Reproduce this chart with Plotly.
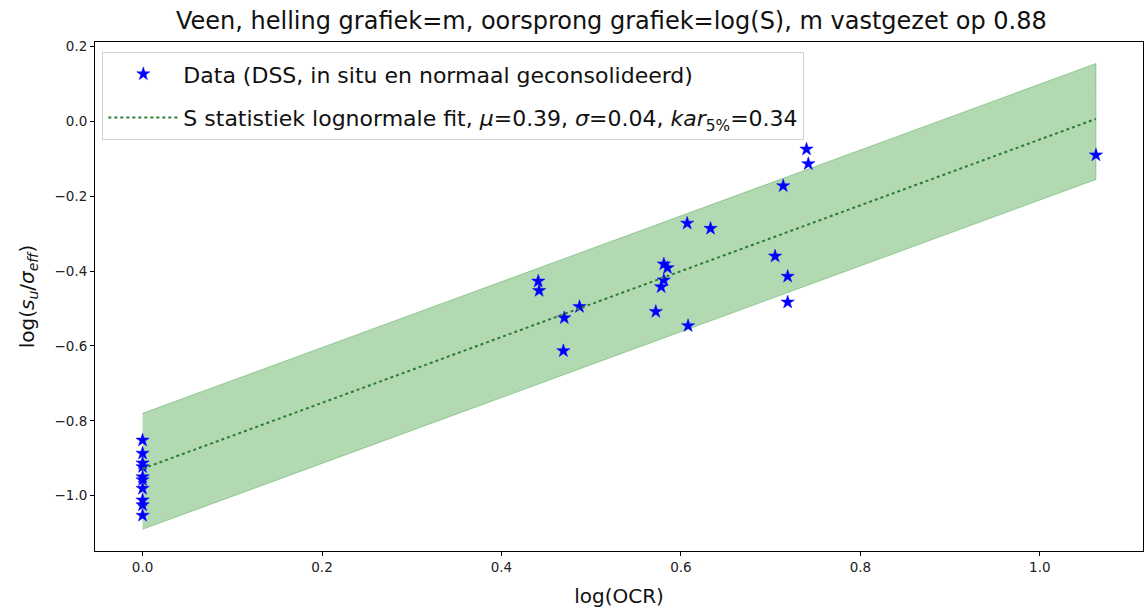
import plotly.graph_objects as go

# log(OCR) and log(su/sigma_eff) for the DSS samples
log_ocr = [0.0, 0.0, 0.0, 0.0, 0.0, 0.0, 0.0, 0.0, 0.0, 0.0,
           0.441, 0.442, 0.470, 0.469, 0.487, 0.572, 0.578, 0.581, 0.581, 0.585,
           0.607, 0.608, 0.633, 0.705, 0.714, 0.719, 0.719, 0.740, 0.742, 1.0626]
log_su = [-0.852, -0.887, -0.913, -0.923, -0.950, -0.958, -0.981, -1.012, -1.025, -1.053,
          -0.427, -0.452, -0.525, -0.613, -0.495, -0.508, -0.442, -0.424, -0.381, -0.391,
          -0.272, -0.546, -0.286, -0.360, -0.172, -0.414, -0.483, -0.074, -0.113, -0.0896]

# fixed slope m and fitted intercepts log(S): mean and band limits
m_slope = 0.88
log_s_mean = -0.928
log_s_upper = -0.780
log_s_lower = -1.090

x_tick_vals = [0.0, 0.2, 0.4, 0.6, 0.8, 1.0]
x_tick_text = ["0.0", "0.2", "0.4", "0.6", "0.8", "1.0"]
y_tick_vals = [0.2, 0.0, -0.2, -0.4, -0.6, -0.8, -1.0]
y_tick_text = ["0.2", "0.0", "\u22120.2", "\u22120.4", "\u22120.6", "\u22120.8", "\u22121.0"]

x_fit = [min(log_ocr), max(log_ocr)]
y_fit = [log_s_mean + m_slope * x for x in x_fit]
y_up = [log_s_upper + m_slope * x for x in x_fit]
y_lo = [log_s_lower + m_slope * x for x in x_fit]

FONT = "DejaVu Sans"

fig = go.Figure()

# confidence band
fig.add_trace(go.Scatter(
    x=x_fit + x_fit[::-1], y=y_up + y_lo[::-1],
    fill="toself", fillcolor="rgba(0,128,0,0.3)",
    line=dict(color="rgba(0,128,0,0.3)", width=1),
    mode="lines", showlegend=False, hoverinfo="skip"))

fig.add_trace(go.Scatter(
    x=log_ocr, y=log_su, mode="markers",
    marker=dict(symbol="star", size=10, color="#0000ff",
                line=dict(color="#0000ff", width=0.5)),
    legendgroup="data",
    name="Data (DSS, in situ en normaal geconsolideerd)"))

fig.add_trace(go.Scatter(
    x=x_fit, y=y_fit, mode="lines",
    line=dict(color="#2e7d32", width=2, dash="dot"),
    legendgroup="fit",
    name="S statistiek lognormale fit, <i>\u03bc</i>=0.39, <i>\u03c3</i>=0.04, "
         "<i>kar</i><sub>5%</sub>=0.34"))

axis_common = dict(
    showgrid=False, zeroline=False, showline=True, linecolor="black", linewidth=1,
    mirror=True, ticks="outside", ticklen=4, tickcolor="black",
    tickfont=dict(family=FONT, size=13.5, color="#222"),
)

fig.update_xaxes(range=[-0.053, 1.115], tickvals=x_tick_vals, ticktext=x_tick_text,
                 title=dict(text="log(OCR)", font=dict(family=FONT, size=20, color="#111"),
                            standoff=14),
                 **axis_common)
fig.update_yaxes(range=[-1.148, 0.2126], tickvals=y_tick_vals, ticktext=y_tick_text,
                 title=dict(text="log(<i>s</i><sub><i>u</i></sub>/<i>\u03c3</i><sub><i>eff</i></sub>)",
                            font=dict(family=FONT, size=20, color="#111"), standoff=14),
                 **axis_common)

fig.update_layout(
    width=1147, height=610,
    margin=dict(l=95, r=4, t=42, b=59),
    paper_bgcolor="white", plot_bgcolor="white",
    font=dict(family=FONT, color="#111"),
    title=dict(text="Veen, helling grafiek=m, oorsprong grafiek=log(S), m vastgezet op 0.88",
               x=0.533, xanchor="center", y=0.967, yanchor="middle", yref="container",
               font=dict(family=FONT, size=24, color="#111")),
    legend=dict(x=0.007, y=0.98, xanchor="left", yanchor="top",
                bgcolor="rgba(255,255,255,0.8)", bordercolor="#d0d0d0", borderwidth=1,
                font=dict(family=FONT, size=22, color="#111"),
                itemwidth=70, tracegroupgap=12),
)

fig.write_html("out.html")
